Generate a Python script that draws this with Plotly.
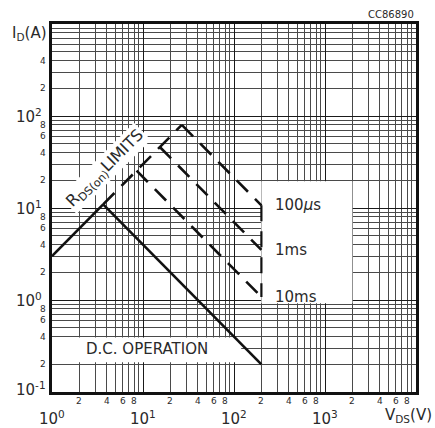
import math
import plotly.graph_objects as go

# Safe operating area, V_DS (V) vs I_D (A), log-log
rds_solid_v = [1.0, 3.65]
rds_solid_i = [3.0, 10.95]
rds_dash_v = [3.65, 26.7]
rds_dash_i = [10.95, 80.0]
dc_v = [3.65, 200.0]
dc_i = [10.95, 0.2]
p100us_v = [26.7, 200.0]
p100us_i = [80.0, 10.7]
p1ms_v = [15.3, 200.0]
p1ms_i = [46.0, 3.5]
p10ms_v = [8.5, 200.0]
p10ms_i = [25.5, 1.08]
vmax_v = [200.0, 200.0]
vmax_i = [10.7, 1.08]

pulse_labels = ["100<i>µ</i>s", "1ms", "10ms"]
pulse_label_i = [10.7, 3.5, 1.08]
pulse_label_v = 270.0

# label panels (white) behind text
label_box_v = [200.0, 2000.0]
label_box_i = [0.92, 19.5]
dc_box_v = [1.0, 120.0]
dc_box_i = [0.21, 0.39]

x_decades = [0, 1, 2, 3]
x_mantissas = [2, 4, 6, 8]
y_decades = [-1, 0, 1, 2]
y_mantissas = [2, 4, 6, 8]

INK = "#111111"
TXT = "#2a2a2a"
FONT = "DejaVu Sans"
DASH = "16px,10px"

fig = go.Figure()


def box(vs, cs):
    fig.add_trace(go.Scatter(
        x=[vs[0], vs[1], vs[1], vs[0], vs[0]],
        y=[cs[0], cs[0], cs[1], cs[1], cs[0]],
        mode="lines", fill="toself", fillcolor="white",
        line=dict(width=0, color="white"), hoverinfo="skip", showlegend=False))


def curve(vs, cs, dash=None, width=2.6):
    fig.add_trace(go.Scatter(
        x=vs, y=cs, mode="lines", hoverinfo="skip", showlegend=False,
        line=dict(color=INK, width=width, dash=dash)))


box(label_box_v, label_box_i)
box(dc_box_v, dc_box_i)

curve(rds_solid_v, rds_solid_i)
curve(dc_v, dc_i)
curve(rds_dash_v, rds_dash_i, DASH)
curve(p100us_v, p100us_i, DASH)
curve(p1ms_v, p1ms_i, DASH)
curve(p10ms_v, p10ms_i, DASH)
curve(vmax_v, vmax_i, DASH, 2.2)

ann = []
# pulse duration labels
for lab, cur in zip(pulse_labels, pulse_label_i):
    ann.append(dict(x=math.log10(pulse_label_v), y=math.log10(cur), text=lab,
                    xanchor="left", yanchor="middle", showarrow=False,
                    font=dict(family=FONT, size=15, color=TXT)))

ann.append(dict(x=math.log10(11.0), y=math.log10(0.29), text="D.C. OPERATION",
                xanchor="center", yanchor="middle", showarrow=False,
                font=dict(family=FONT, size=15, color=TXT)))

ann.append(dict(x=math.log10(3.82), y=math.log10(27.2),
                text="R<sub>DS(on)</sub>LIMITS", textangle=-45,
                showarrow=False, bgcolor="white", borderpad=1,
                font=dict(family=FONT, size=16, color=TXT)))

# x tick labels
for d in x_decades:
    ann.append(dict(x=d, y=0, xref="x", yref="paper", text=f"10<sup>{d}</sup>",
                    xanchor="center", yanchor="top", yshift=-14, showarrow=False,
                    font=dict(family=FONT, size=15, color=TXT)))
    for m in x_mantissas:
        ann.append(dict(x=d + math.log10(m), y=0, xref="x", yref="paper", text=str(m),
                        xanchor="center", yanchor="middle", yshift=-9, showarrow=False,
                        font=dict(family=FONT, size=9, color=TXT)))
ann.append(dict(x=1.0, y=0, xref="paper", yref="paper", text="V<sub>DS</sub>(V)",
                xanchor="right", yanchor="top", xshift=18, yshift=-12, showarrow=False,
                font=dict(family=FONT, size=15, color=TXT)))

# y tick labels
for d in y_decades:
    ann.append(dict(x=0, y=d, xref="paper", yref="y", text=f"10<sup>{d}</sup>",
                    xanchor="left", yanchor="middle", xshift=-38,
                    yshift=3 if d == -1 else 0, showarrow=False,
                    font=dict(family=FONT, size=15, color=TXT)))
    for m in y_mantissas:
        if d == 2 and m > 4:
            continue
        ann.append(dict(x=0, y=d + math.log10(m), xref="paper", yref="y", text=str(m),
                        xanchor="right", yanchor="middle", xshift=-4, showarrow=False,
                        font=dict(family=FONT, size=9, color=TXT)))
ann.append(dict(x=0, y=1, xref="paper", yref="paper", text="I<sub>D</sub>(A)",
                xanchor="right", yanchor="middle", xshift=-3, yshift=-9, showarrow=False,
                font=dict(family=FONT, size=15, color=TXT)))
ann.append(dict(x=1, y=1, xref="paper", yref="paper", text="CC86890",
                xanchor="right", yanchor="bottom", yshift=2, showarrow=False,
                font=dict(family=FONT, size=10, color=TXT)))

axis_common = dict(
    type="log", showgrid=True, gridcolor="#1a1a1a", gridwidth=1.4, dtick=1,
    showticklabels=False, ticks="", zeroline=False,
    minor=dict(showgrid=True, dtick="D1", gridcolor="#4a4a4a", gridwidth=0.8),
    showline=True, linecolor=INK, linewidth=2.5, mirror=True,
)

fig.update_layout(
    width=435, height=428,
    margin=dict(l=52, r=19, t=24, b=36),
    paper_bgcolor="white", plot_bgcolor="white",
    xaxis=dict(range=[0, 4], **axis_common),
    yaxis=dict(range=[-1, 3], **axis_common),
    annotations=ann,
    showlegend=False,
)

fig.write_html("out.html")
